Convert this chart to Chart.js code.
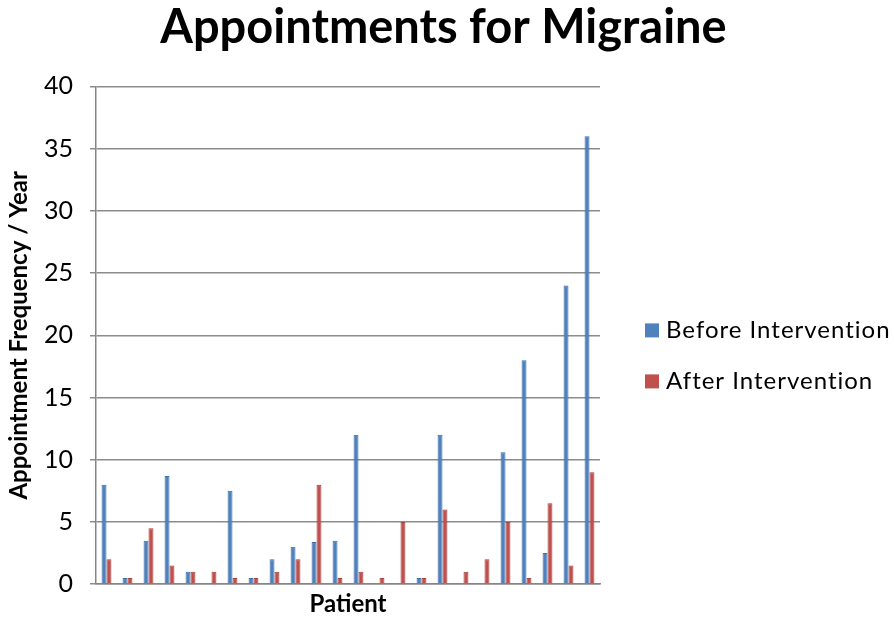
<!DOCTYPE html>
<html>
<head>
<meta charset="utf-8">
<script src="https://cdn.jsdelivr.net/npm/chart.js@4"></script>
<style>
  html, body { margin: 0; padding: 0; background: #fff; }
  #wrap { width: 894px; height: 619px; }
</style>
</head>
<body>
<div id="wrap"><canvas id="migraineChart" width="894" height="619"></canvas></div>
<script>
// patients (no labels shown on the axis)
const patients = ['1', '2', '3', '4', '5', '6', '7', '8', '9', '10', '11', '12',
                  '13', '14', '15', '16', '17', '18', '19', '20', '21', '22', '23', '24'];

// appointments per year
const beforeIntervention = [8, 0.5, 3.5, 8.7, 1, 0, 7.5, 0.5, 2, 3, 3.4, 3.5,
                            12, 0, 0, 0.5, 12, 0, 0, 10.6, 18, 2.5, 24, 36];
const afterIntervention = [2, 0.5, 4.5, 1.5, 1, 1, 0.5, 0.5, 1, 2, 8, 0.5,
                           1, 0.5, 5, 0.5, 6, 1, 2, 5, 0.5, 6.5, 1.5, 9];

const fontFamily = 'Lato, "Open Sans", sans-serif';

// legend drawn by hand so the long labels are not clipped at the right edge
const sideLegend = {
    id: 'sideLegend',
    afterDraw(chart) {
        const c = chart.ctx;
        const area = chart.chartArea;
        const x = area.right + 45;
        let y = area.top + 244;
        c.save();
        c.font = '24px ' + fontFamily;
        c.letterSpacing = '1px';
        c.textBaseline = 'middle';
        chart.data.datasets.forEach(ds => {
            c.fillStyle = ds.backgroundColor;
            c.fillRect(x, y - 7, 14, 14);
            c.fillStyle = '#000';
            c.fillText(ds.label, x + 21, y);
            y += 51;
        });
        c.restore();
    }
};

const ctx = document.getElementById('migraineChart').getContext('2d');
const migraineChart = new Chart(ctx, {
    type: 'bar',
    data: {
        labels: patients,
        datasets: [
            {
                label: 'Before Intervention',
                data: beforeIntervention,
                backgroundColor: '#4F81BD',
                borderColor: '#3F6FA8',
                borderWidth: 1,
                barPercentage: 1.0,
                categoryPercentage: 0.47
            },
            {
                label: 'After Intervention',
                data: afterIntervention,
                backgroundColor: '#C0504D',
                borderColor: '#A8403D',
                borderWidth: 1,
                barPercentage: 1.0,
                categoryPercentage: 0.47
            }
        ]
    },
    options: {
        responsive: false,
        animation: false,
        layout: {
            padding: { left: 5, right: 12, top: 0, bottom: 0 }
        },
        scales: {
            x: {
                grid: { display: false, drawTicks: false },
                border: { display: true, color: '#868686', width: 1.5 },
                ticks: { display: false },
                title: {
                    display: true,
                    text: 'Patient',
                    color: '#000',
                    font: { family: fontFamily, size: 24, weight: 'bold' },
                    padding: { top: 6, bottom: 0 }
                }
            },
            y: {
                min: 0,
                max: 40,
                afterFit: scale => { scale.width = 91; },
                ticks: {
                    stepSize: 5,
                    color: '#000',
                    padding: 17,
                    font: { family: fontFamily, size: 25 }
                },
                grid: {
                    color: '#8c8c8c',
                    lineWidth: 1.5,
                    tickLength: 6
                },
                border: { display: true, color: '#868686', width: 1.5 },
                title: {
                    display: true,
                    text: 'Appointment Frequency / Year',
                    color: '#000',
                    font: { family: fontFamily, size: 24, weight: 'bold' },
                    padding: { top: 0, bottom: 0 }
                }
            },
            // empty axis on the right, only to keep room for the legend
            legendRoom: {
                type: 'linear',
                position: 'right',
                display: true,
                afterFit: scale => { scale.width = 282; },
                grid: { display: false, drawTicks: false },
                border: { display: false },
                ticks: { display: false }
            }
        },
        plugins: {
            title: {
                display: true,
                text: 'Appointments for Migraine',
                color: '#000',
                font: { family: fontFamily, size: 47, weight: 'bold' },
                padding: { top: 0, bottom: 30 }
            },
            legend: { display: false },
            tooltip: { enabled: false }
        }
    },
    plugins: [sideLegend]
});
</script>
</body>
</html>
